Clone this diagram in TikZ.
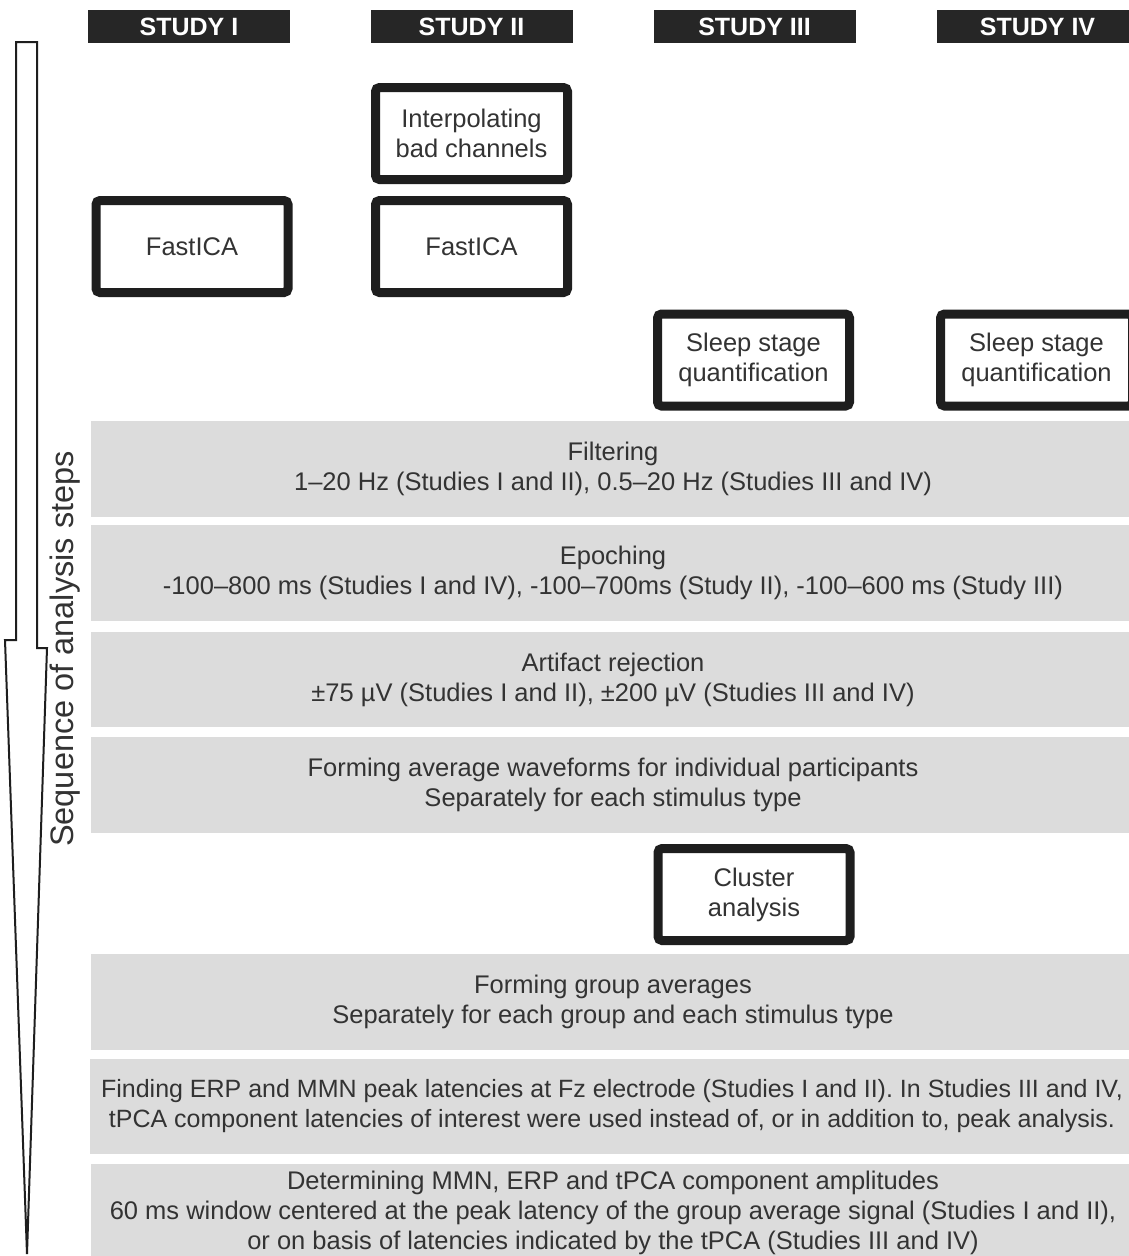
\documentclass[tikz,border=0pt]{standalone}
\usepackage{fontspec}
\setmainfont{Liberation Sans}
\definecolor{headfill}{HTML}{262626}
\definecolor{stepfill}{HTML}{DCDCDC}
\definecolor{inkgray}{HTML}{333333}
\definecolor{boxline}{HTML}{1E1E1E}
\tikzset{
	studyhead/.style={fill=headfill, text=white, font=\fontsize{25}{28}\selectfont\bfseries,
		minimum width=202pt, minimum height=33pt, inner sep=0pt},
	studybox/.style={draw=boxline, line width=9pt, rounded corners=4pt, fill=white, text=inkgray,
		minimum width=192pt, minimum height=92pt, align=center, inner sep=0pt},
	stepbar/.style={fill=stepfill, text=inkgray, minimum width=1044pt, align=center, inner sep=0pt}
}
\begin{document}
\begin{tikzpicture}[x=1pt, y=-1pt, font=\fontsize{25.5}{30}\selectfont]
	\clip (0,0) rectangle (1129,1256);
	\fill[white] (0,0) rectangle (1129,1256);
	% study headers
	\foreach \x/\n/\t in {189/hI/STUDY I, 471.5/hII/STUDY II, 754.5/hIII/STUDY III, 1037.5/hIV/STUDY IV} {
		\node[studyhead] (\n) at (\x,26.5) {\t};
	}
	% arrow of the analysis sequence
	\draw[draw=boxline, line width=2pt, fill=white, line join=miter]
		(16,42) -- (37,42) -- (37,648) -- (47,648) -- (27,1254) -- (5,640) -- (16,640) -- cycle;
	\node[rotate=90, text=inkgray, font=\fontsize{32.5}{36}\selectfont] (seq) at (65,649) {Sequence of analysis steps};
	% study specific steps
	\node[studybox] (interp) at (471.5,133.5) {Interpolating\\bad channels};
	\node[studybox] (icaI) at (192,246.5) {FastICA};
	\node[studybox] (icaII) at (471.5,246.5) {FastICA};
	\node[studybox] (sleepIII) at (753.5,360) {Sleep stage\\quantification};
	\node[studybox] (sleepIV) at (1036.5,360) {Sleep stage\\quantification};
	\node[studybox] (cluster) at (754,894.5) {Cluster\\analysis};
	% common steps
	\node[stepbar, minimum height=96pt] (filt) at (613,469) {Filtering\\1–20 Hz (Studies I and II), 0.5–20 Hz (Studies III and IV)};
	\node[stepbar, minimum height=96pt] (epoch) at (613,573) {Epoching\\-100–800 ms (Studies I and IV), -100–700ms (Study II), -100–600 ms (Study III)};
	\node[stepbar, minimum height=95pt] (artif) at (613,679.5) {Artifact rejection\\±75 µV (Studies I and II), ±200 µV (Studies III and IV)};
	\node[stepbar, minimum height=96pt] (wave) at (613,785) {Forming average waveforms for individual participants\\Separately for each stimulus type};
	\node[stepbar, minimum height=96pt] (group) at (613,1002) {Forming group averages\\Separately for each group and each stimulus type};
	\node[stepbar, minimum height=95pt, font=\fontsize{25}{30}\selectfont] (peak) at (612,1106.5) {Finding ERP and MMN peak latencies at Fz electrode (Studies I and II). In Studies III and IV,\\tPCA component latencies of interest were used instead of, or in addition to, peak analysis.};
	\node[stepbar, minimum height=98pt] (ampl) at (613,1213) {Determining MMN, ERP and tPCA component amplitudes\\60 ms window centered at the peak latency of the group average signal (Studies I and II),\\or on basis of latencies indicated by the tPCA (Studies III and IV)};
\end{tikzpicture}
\end{document}
